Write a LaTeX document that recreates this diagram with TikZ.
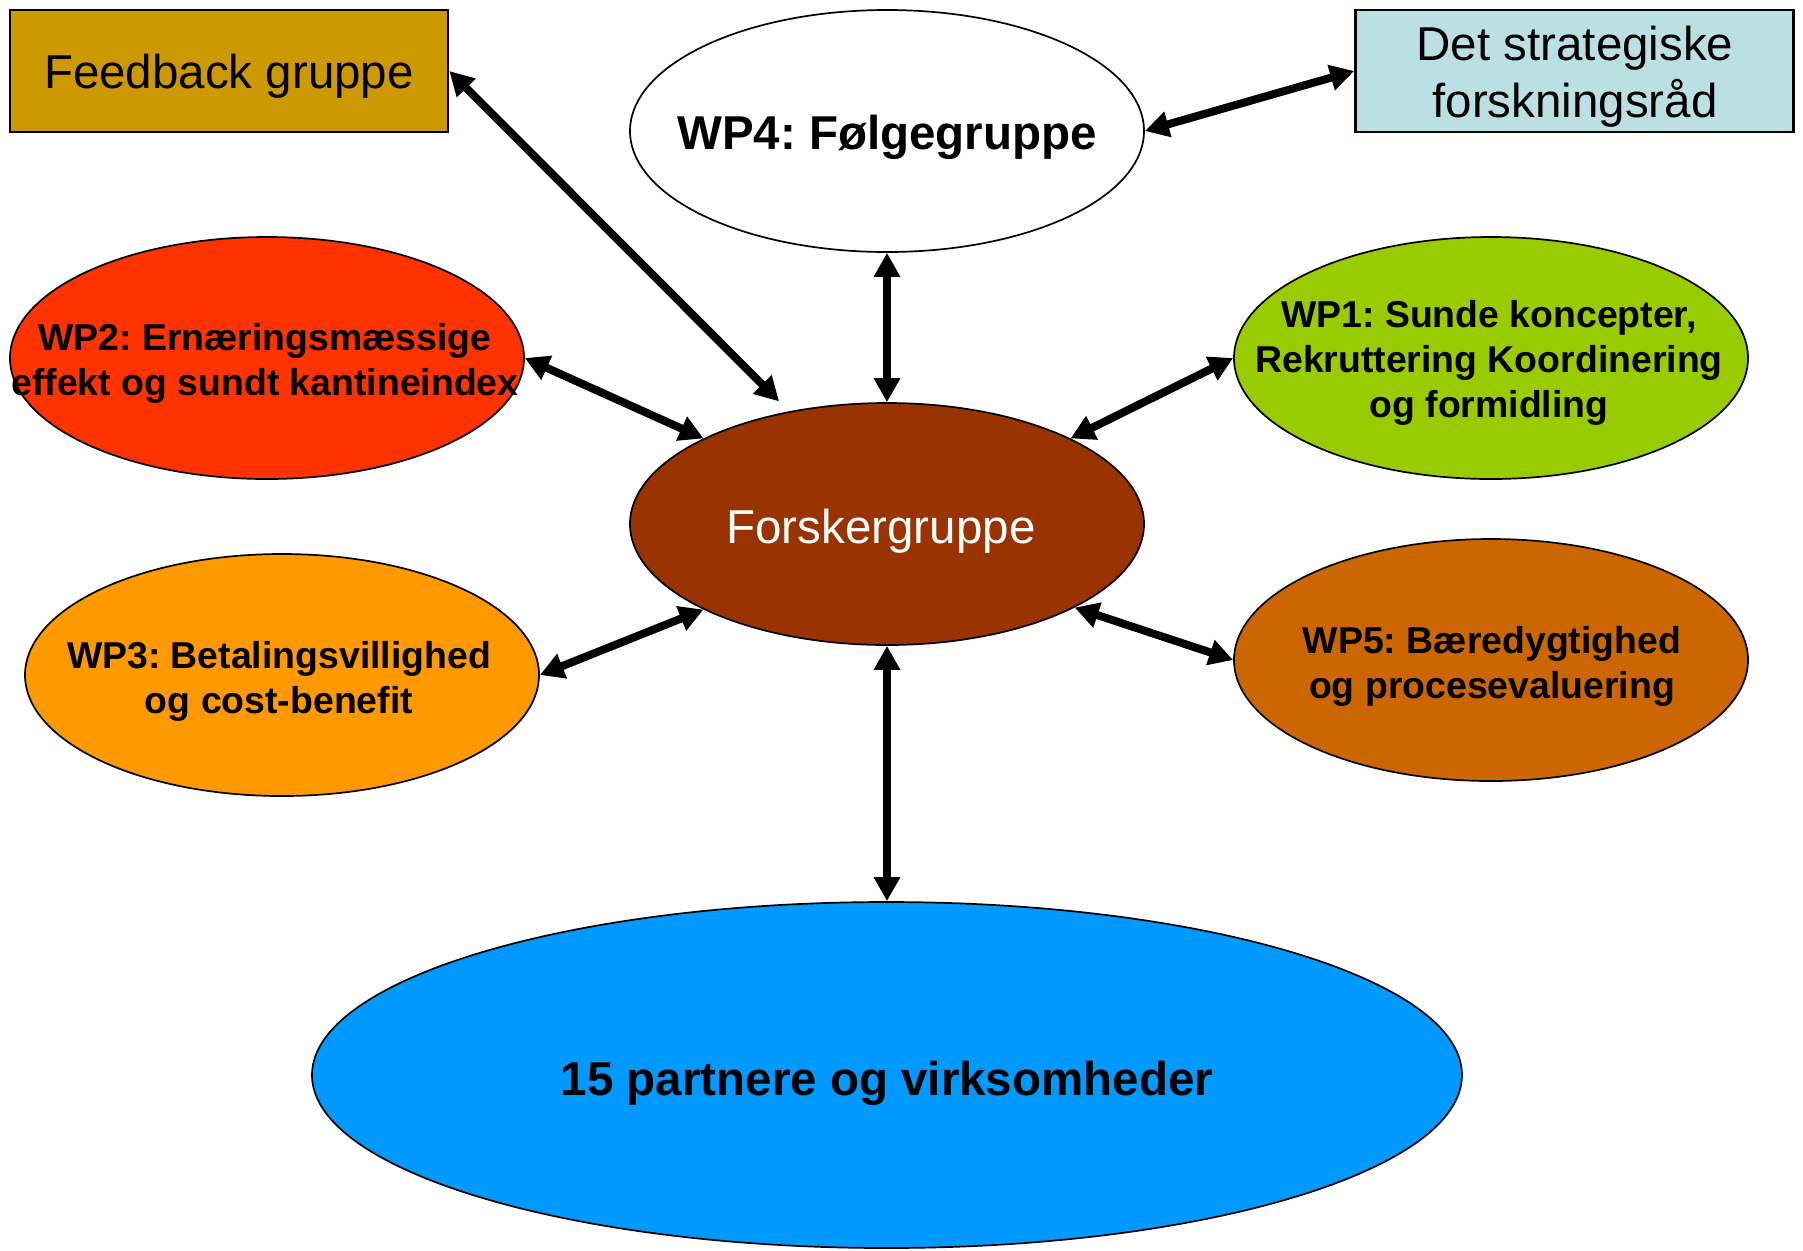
\documentclass[tikz,border=0pt]{standalone}
\usepackage{fontspec}
\setmainfont{Liberation Sans}
\usetikzlibrary{shapes.geometric,arrows.meta}
\frenchspacing
\definecolor{cfb}{RGB}{204,153,0}
\definecolor{cdet}{RGB}{187,224,227}
\definecolor{cwpii}{RGB}{255,51,0}
\definecolor{cwpi}{RGB}{153,204,0}
\definecolor{cfor}{RGB}{153,51,0}
\definecolor{cwpiii}{RGB}{255,153,0}
\definecolor{cwpv}{RGB}{204,102,0}
\definecolor{cpart}{RGB}{0,153,255}
\begin{document}
\begin{tikzpicture}[x=0.5pt,y=-0.5pt,
  ell/.style={ellipse, draw=black, line width=0.85pt, inner sep=0pt, minimum width=257pt, minimum height=121pt},
  boxnode/.style={rectangle, draw=black, line width=1.3pt, inner sep=0pt, minimum width=219pt, minimum height=61pt},
  bigtxt/.style={inner sep=0pt, align=center, font=\fontsize{23.75pt}{28.5pt}\selectfont},
  bigbold/.style={inner sep=0pt, align=center, font=\fontsize{23.75pt}{28.5pt}\selectfont\bfseries},
  smallbold/.style={inner sep=0pt, align=center, font=\fontsize{18.7pt}{22.5pt}\selectfont\bfseries},
  arr/.style={line width=4pt, {Triangle[length=12pt,width=12.5pt]}-{Triangle[length=12pt,width=12.5pt]}}]
\useasboundingbox (0,0) rectangle (1803,1250);

% boxes
\node[boxnode, fill=cfb] (fb) at (229,71) {};
\node[bigtxt] (fbt) at (229,76) {Feedback gruppe};
\node[boxnode, fill=cdet] (det) at (1574.5,71) {};
\node[bigtxt] (dett) at (1575,77) {Det strategiske\\forskningsråd};

% ellipses
\node[ell, fill=white] (wp4) at (887,131) {};
\node[bigbold] (wp4t) at (887,137) {WP4: Følgegruppe};
\node[ell, fill=cwpii] (wp2) at (267,358) {};
\node[smallbold] (wp2t) at (265,363) {WP2: Ernæringsmæssige\\effekt og sundt kantineindex};
\node[ell, fill=cwpi] (wp1) at (1491,358) {};
\node[smallbold] (wp1t) at (1489,363) {WP1: Sunde koncepter,\\Rekruttering Koordinering\\og formidling};
\node[ell, fill=cfor] (for) at (887,524) {};
\node[bigtxt, text=white] (fort) at (881,531) {Forskergruppe};
\node[ell, fill=cwpiii] (wp3) at (282,675) {};
\node[smallbold] (wp3t) at (279,681) {WP3: Betalingsvillighed\\og cost-benefit};
\node[ell, fill=cwpv] (wp5) at (1491,660) {};
\node[smallbold] (wp5t) at (1492,666) {WP5: Bæredygtighed\\og procesevaluering};
\node[ellipse, draw=black, line width=0.85pt, inner sep=0pt, minimum width=575pt, minimum height=173pt, fill=cpart] (part) at (887,1075) {};
\node[bigbold] (partt) at (887,1083) {15 partnere og virksomheder};

% connectors
\draw[arr, shorten >=7pt] (fb.east) -- (for.131);
\draw[arr] (wp2.east) -- (for.155);
\draw[arr] (wp4.south) -- (for.north);
\draw[arr] (wp4.east) -- (det.west);
\draw[arr] (wp1.west) -- (for.25);
\draw[arr] (wp3.east) -- (for.205);
\draw[arr] (wp5.west) -- (for.336);
\draw[arr] (for.south) -- (part.north);
\end{tikzpicture}
\end{document}
